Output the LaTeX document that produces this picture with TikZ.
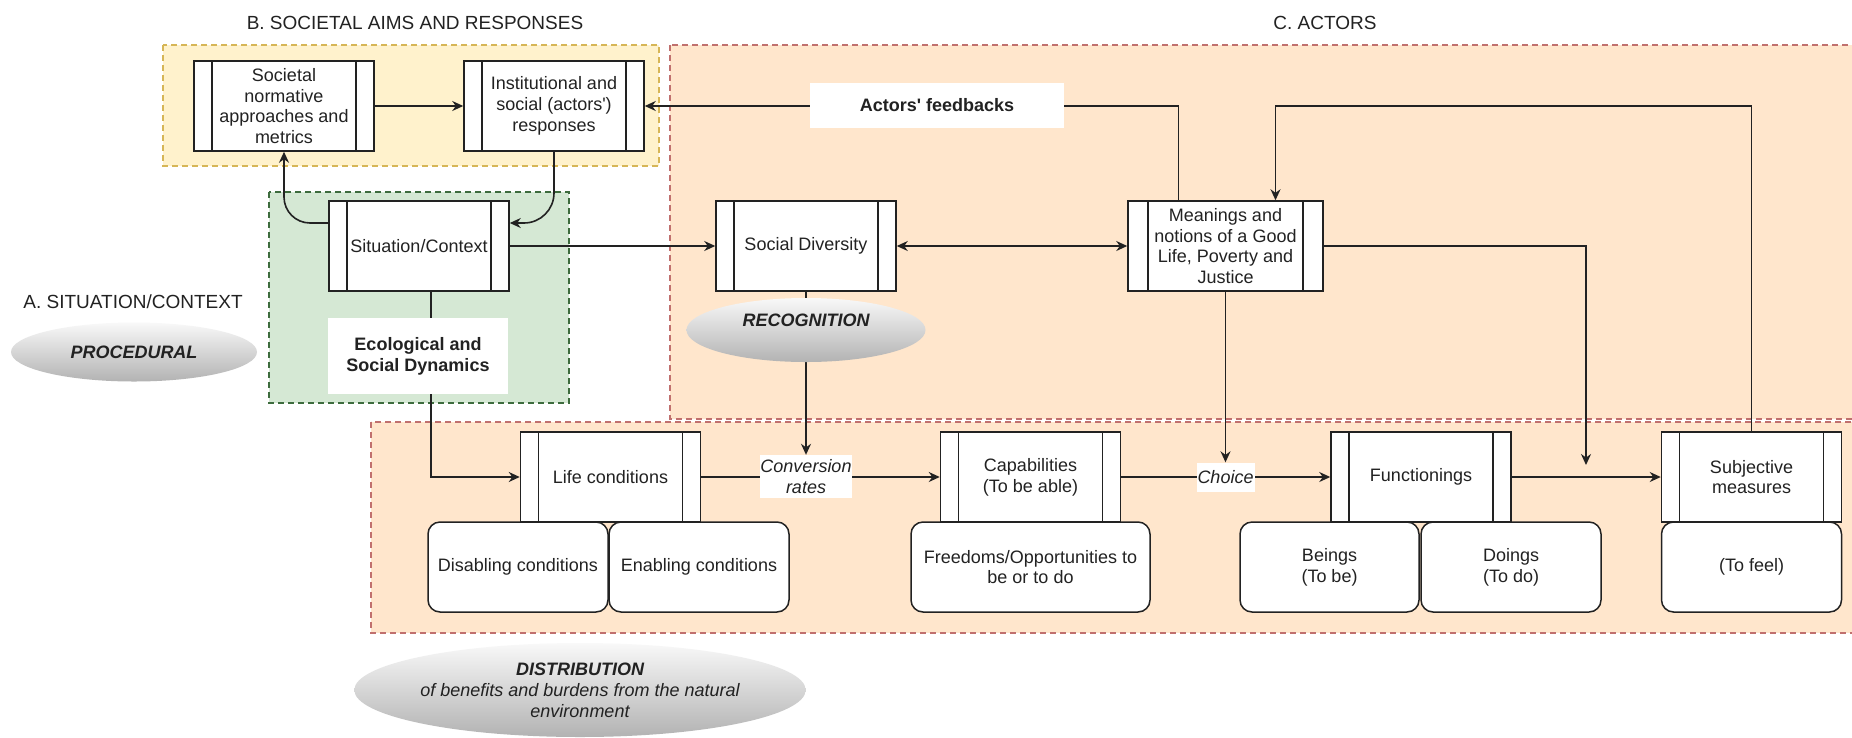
\documentclass[tikz,border=0pt]{standalone}
\usepackage{fontspec}
\setmainfont{Liberation Sans}[Ligatures=TeXOff]
\usetikzlibrary{arrows.meta,shapes.geometric,calc}
\pgfdeclarelayer{regions}
\pgfdeclarelayer{edges}
\pgfsetlayers{regions,edges,main}

\definecolor{yfill}{HTML}{FFF2CC}
\definecolor{ybord}{HTML}{D6B656}
\definecolor{gfill}{HTML}{D5E8D4}
\definecolor{gbord}{HTML}{3D6B3D}
\definecolor{ofill}{HTML}{FFE6CC}
\definecolor{obord}{HTML}{C0706E}
\definecolor{ink}{HTML}{222222}

\begin{document}
\begin{tikzpicture}[x=1pt,y=-1pt,
  >={Stealth[length=11pt,width=10pt]},
  txt/.style={text=ink, font=\fontsize{18}{20.7}\selectfont, align=center},
  title/.style={text=ink, font=\fontsize{19}{22}\selectfont},
  procbox/.style={txt, draw=ink, line width=1.5pt, fill=white,
    minimum width=180pt, minimum height=90pt, inner sep=0pt,
    path picture={\draw[line width=1.7pt, ink]
      ([xshift=#1]path picture bounding box.north west) -- ([xshift=#1]path picture bounding box.south west)
      ([xshift=-#1]path picture bounding box.north east) -- ([xshift=-#1]path picture bounding box.south east);}},
  procbox/.default=18pt,
  subbox/.style={txt, draw=ink, line width=1.5pt, fill=white, rounded corners=12pt,
    minimum width=180pt, minimum height=90pt, inner sep=0pt},
  tag/.style={txt, fill=white, inner sep=0pt},
  oval/.style={ellipse, draw=none, top color=gray!5, bottom color=gray!60,
    txt, inner sep=0pt},
  region/.style={dash pattern=on 6pt off 4pt, line width=1.3pt},
  line/.style={draw=ink, line width=1.6pt},
  arr/.style={line, ->},
]
\useasboundingbox (0,0) rectangle (1852,737);
\clip (0,0) rectangle (1852,737);

% shaded areas for the three groups
\begin{pgfonlayer}{regions}
  \fill[white] (0,0) rectangle (1852,737);
  \draw[region, draw=ybord, fill=yfill] (163,45) rectangle (659,166);
  \draw[region, draw=gbord, fill=gfill] (269,192) rectangle (569,403);
  \draw[region, draw=obord, fill=ofill] (670,45) rectangle (1870,419);
  \draw[region, draw=obord, fill=ofill] (371,422) rectangle (1870,633);
\end{pgfonlayer}

% group titles
\node[title] (tb) at (415,23) {B. SOCIETAL AIMS AND RESPONSES};
\node[title] (ta) at (133,302) {A. SITUATION/CONTEXT};
\node[title] (tc) at (1325,23) {C. ACTORS};

% process boxes
\node[procbox] (soc) at (284,106) {Societal\\normative\\approaches and\\metrics};
\node[procbox] (inst) at (554,106) {Institutional and\\social (actors')\\responses};
\node[procbox] (sit) at (419,246) {Situation/Context};
\node[procbox] (socdiv) at (806,246) {Social Diversity};
\node[procbox=20pt, minimum width=195pt] (mean) at (1225.5,246) {Meanings and\\notions of a Good\\Life, Poverty and\\Justice};
\node[procbox] (life) at (610.5,477) {Life conditions};
\node[procbox] (cap) at (1030.5,477) {Capabilities\\(To be able)};
\node[procbox] (func) at (1421,477) {Functionings};
\node[procbox] (subj) at (1751.5,477) {Subjective\\measures};

% rounded boxes under the process boxes
\node[subbox] (disab) at (518,567) {Disabling conditions};
\node[subbox] (enab) at (699,567) {Enabling conditions};
\node[subbox, minimum width=239pt] (free) at (1030.5,567) {Freedoms/Opportunities to\\be or to do};
\node[subbox, minimum width=179pt] (being) at (1329.5,567) {Beings\\(To be)};
\node[subbox] (doing) at (1511,567) {Doings\\(To do)};
\node[subbox] (feel) at (1751.5,567) {(To feel)};

% labels on white ground
\node[tag, font=\fontsize{18}{20.7}\selectfont\bfseries, minimum width=254pt, minimum height=45pt] (fb) at (937,105.5) {Actors' feedbacks};
\node[tag, font=\fontsize{18}{20.7}\selectfont\bfseries, minimum width=180pt, minimum height=76pt] (eco) at (418,356) {Ecological and\\Social Dynamics};
\node[tag, font=\fontsize{18}{20.7}\selectfont\itshape, minimum width=90pt, minimum height=43pt] (conv) at (806,476.5) {Conversion\\rates};
\node[tag, font=\fontsize{18}{20.7}\selectfont\itshape, minimum width=58pt, minimum height=29pt] (choice) at (1225.5,477) {Choice};

% justice ovals
\node[oval, font=\fontsize{18}{20.7}\selectfont\bfseries\itshape, minimum width=246pt, minimum height=59pt] (proc) at (134,352) {PROCEDURAL};
\node[oval, font=\fontsize{18}{20.7}\selectfont\bfseries\itshape, minimum width=239pt, minimum height=64pt, text depth=20pt] (recog) at (806,330) {RECOGNITION};
\node[oval, font=\fontsize{18}{21}\selectfont\itshape, minimum width=414pt, minimum height=94pt] (dist) at (580,690) {\textbf{DISTRIBUTION}\\of benefits and burdens from the natural\\environment};

% routing points
\coordinate (toprow) at (0,106);
\coordinate (merge) at (1586,465);

% connectors
\begin{pgfonlayer}{edges}
  \draw[arr] (soc) -- (inst);
  \draw[arr, rounded corners=26pt] ([yshift=23pt]sit.west) -| (soc.south);
  \draw[arr, rounded corners=30pt] (inst.south) |- ([yshift=23pt]sit.east);
  \draw[arr] (sit) -- (socdiv);
  \draw[line, <->] (socdiv) -- (mean);
  \draw[arr] ([xshift=-47pt]mean.north) |- (inst.east);
  \draw[arr] (subj.north) |- ([xshift=50pt]mean.north |- toprow) -- ([xshift=50pt]mean.north);
  \draw[arr] (mean.east) -| (merge);
  \draw[arr] (mean.south) -- (choice.north);
  \draw[arr] (cap) -- (func);
  \draw[line] (socdiv) -- (recog);
  \draw[arr] (recog) -- (conv.north);
  \draw[arr] (life) -- (cap);
  \draw[line] ([xshift=12pt]sit.south) -- ([xshift=13pt]eco.north);
  \draw[arr] ([xshift=13pt]eco.south) |- (life.west);
  \draw[arr] (func) -- (subj);
\end{pgfonlayer}
\end{tikzpicture}
\end{document}
